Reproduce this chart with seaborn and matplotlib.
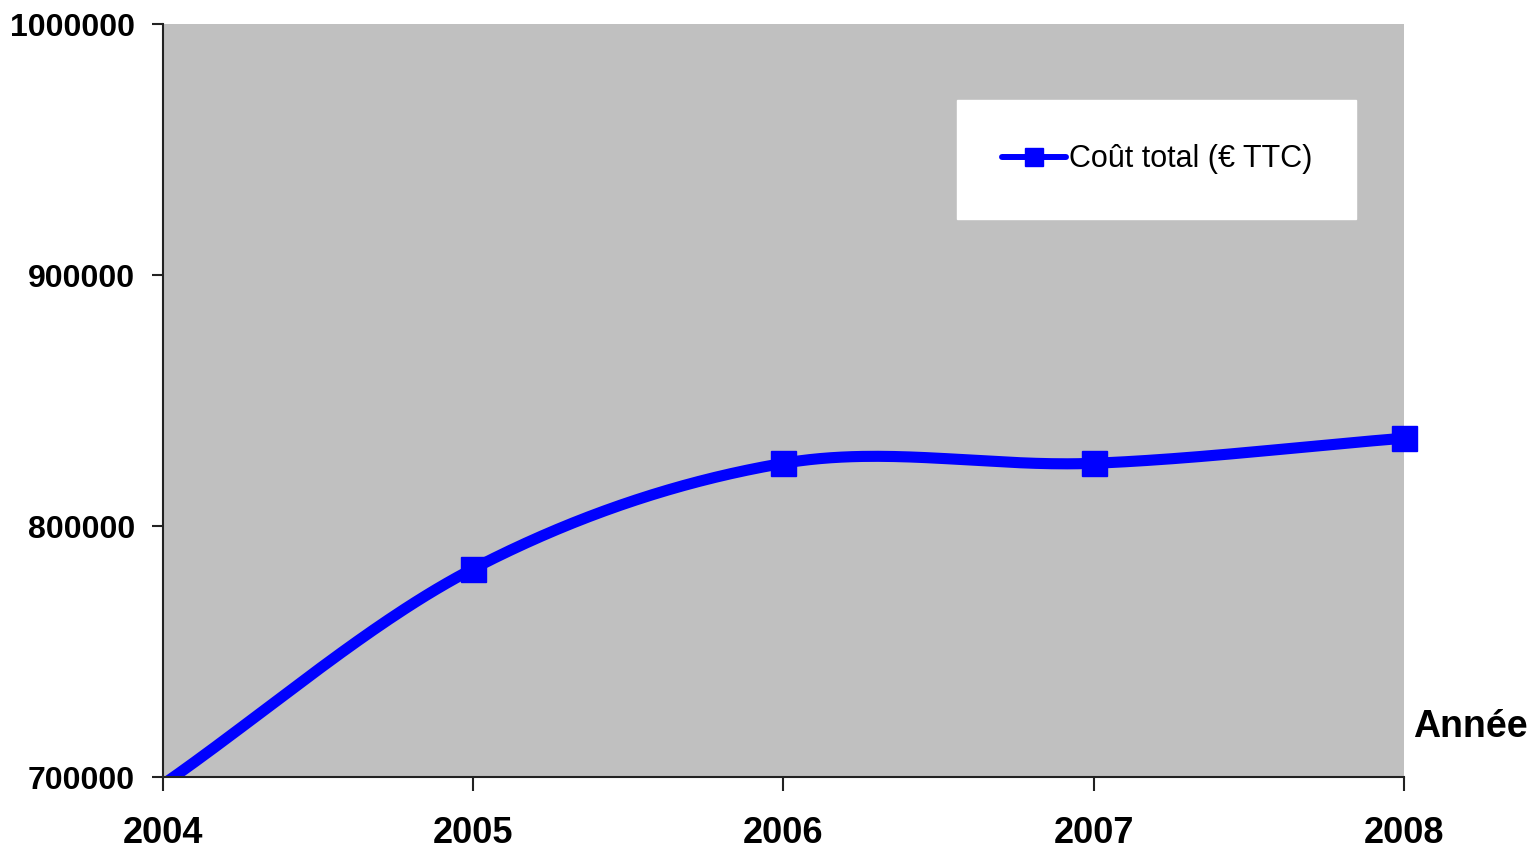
import numpy as np
import pandas as pd
import matplotlib.pyplot as plt
import seaborn as sns
from matplotlib.lines import Line2D

years = [2004, 2005, 2006, 2007, 2008]
cout_total = [697000, 783000, 825000, 825000, 835000]
y_ticks = [700000, 800000, 900000, 1000000]
serie_label = "Coût total (€ TTC)"
x_title = "Année"


def smooth(x, y, n=60):
    # lissage façon Excel (Catmull-Rom / Bézier)
    x = np.asarray(x, float)
    y = np.asarray(y, float)
    px = np.concatenate([[2 * x[0] - x[1]], x, [2 * x[-1] - x[-2]]])
    py = np.concatenate([[y[0]], y, [y[-1]]])
    py[0] = y[0] - (y[1] - y[0])
    py[-1] = y[-1] + (y[-1] - y[-2])
    xs, ys = [], []
    t = np.linspace(0, 1, n)
    for i in range(1, len(px) - 2):
        m0x = (px[i + 1] - px[i - 1]) / 2
        m1x = (px[i + 2] - px[i]) / 2
        m0y = (py[i + 1] - py[i - 1]) / 2
        m1y = (py[i + 2] - py[i]) / 2
        h00 = 2 * t**3 - 3 * t**2 + 1
        h10 = t**3 - 2 * t**2 + t
        h01 = -2 * t**3 + 3 * t**2
        h11 = t**3 - t**2
        xs.append(h00 * px[i] + h10 * m0x + h01 * px[i + 1] + h11 * m1x)
        ys.append(h00 * py[i] + h10 * m0y + h01 * py[i + 1] + h11 * m1y)
    return np.concatenate(xs), np.concatenate(ys)


sns.set_style("ticks")
plt.rcParams['font.family'] = ['Liberation Sans', 'DejaVu Sans']
plt.rcParams['text.color'] = 'black'
plt.rcParams['xtick.color'] = 'black'
plt.rcParams['ytick.color'] = 'black'

df = pd.DataFrame({"annee": years, "cout": cout_total})
sx, sy = smooth(years, cout_total)
courbe = pd.DataFrame({"annee": sx, "cout": sy})

fig = plt.figure(figsize=(15.37, 8.52), dpi=100)
ax = fig.add_axes([0.106, 0.088, 0.8075, 0.8838])
ax.set_facecolor("#C0C0C0")

sns.lineplot(data=courbe, x="annee", y="cout", color="#0000FF", linewidth=8,
             ax=ax, solid_capstyle="butt")
ax.plot(df["annee"][1:], df["cout"][1:], linestyle="none", marker="s",
        markersize=18, color="#0000FF", clip_on=False, zorder=5)

ax.set_xlim(2004, 2008)
ax.set_ylim(700000, 1000000)
ax.set_xticks(years)
ax.set_xticklabels([str(a) for a in years], fontsize=26, fontweight="bold")
ax.set_yticks(y_ticks)
ax.set_yticklabels([str(v) for v in y_ticks], fontsize=23, fontweight="bold")
ax.tick_params(axis="x", length=10, width=1.5, pad=18, color="#222222")
ax.tick_params(axis="y", length=8, width=1.5, pad=12, color="#222222")
ax.set_xlabel("")
ax.set_ylabel("")

for s in ["top", "right"]:
    ax.spines[s].set_visible(False)
for s in ["left", "bottom"]:
    ax.spines[s].set_linewidth(1.5)
    ax.spines[s].set_color("#222222")

ax.text(1.007, 0.066, x_title, transform=ax.transAxes, fontsize=27,
        fontweight="bold", ha="left", va="center")

handle = Line2D([], [], color="#0000FF", linewidth=4.3, marker="s", markersize=12.5)
leg = ax.legend([handle], [serie_label], loc="upper left",
                bbox_to_anchor=(0.640, 0.899), fontsize=22, frameon=True,
                fancybox=False, handlelength=2.1, handletextpad=0.1,
                borderpad=1.45, borderaxespad=0)
leg.get_frame().set_facecolor("white")
leg.get_frame().set_edgecolor("white")
leg.get_frame().set_alpha(1)

fig.savefig("out.png", dpi=100)
